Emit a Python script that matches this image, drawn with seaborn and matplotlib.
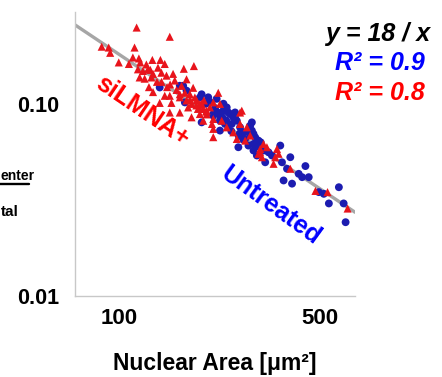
import numpy as np
import pandas as pd
import matplotlib
matplotlib.use("Agg")
import matplotlib.pyplot as plt
from matplotlib.lines import Line2D
from matplotlib.ticker import LogLocator, FixedLocator, NullFormatter
import seaborn as sns

# ---------------- data ----------------
red_area = [114.7, 149.6, 86.7, 91.7, 92.8, 112.8, 99.4, 107.8, 111.3, 116.8,
            118.1, 130.1, 138.8, 143.7, 136.1, 167.4, 115.9, 120.6, 125.6, 130.8,
            117.5, 122.3, 129.1, 139.9, 145.7, 153.6, 155.7, 126.6, 130.8, 146.4,
            149.6, 143.7, 162.1, 168.8, 138.0, 151.6, 162.1, 149.6, 181.5, 171.1,
            180.4, 220.6, 262.8, 212.0, 190.4, 187.4, 178.1, 201.0, 196.7, 185.4,
            171.1, 162.1, 277.4, 273.6, 317.0, 325.8, 304.5, 343.6, 393.0, 480.8,
            529.6, 622.1, 348.3, 249.0, 262.8, 226.8, 212.0, 236.1, 164.4, 175.7,
            173.3, 178.1, 193.1, 195.6, 201.0, 190.4, 206.4, 212.0, 223.7, 195.6,
            209.8, 212.0, 266.4, 255.9, 284.9, 308.7, 182.9, 308.7, 313.0, 357.7,
            353.2, 185.0, 200.0, 190.0, 176.0, 158.0, 135.0, 128.0, 124.0, 140.0,
            150.0]
red_ratio = [0.249, 0.223, 0.198, 0.196, 0.184, 0.196, 0.164, 0.161, 0.174, 0.172,
             0.164, 0.169, 0.169, 0.161, 0.154, 0.152, 0.151, 0.148, 0.151, 0.143,
             0.137, 0.135, 0.137, 0.145, 0.140, 0.143, 0.132, 0.122, 0.115, 0.122,
             0.110, 0.110, 0.112, 0.114, 0.101, 0.101, 0.090, 0.090, 0.157, 0.134,
             0.121, 0.114, 0.090, 0.067, 0.0998, 0.094, 0.085, 0.088, 0.104, 0.104,
             0.104, 0.108, 0.0754, 0.0643, 0.0618, 0.0594, 0.0549, 0.0487, 0.0459, 0.0352,
             0.0347, 0.0285, 0.0527, 0.0710, 0.0785, 0.0816, 0.0740, 0.0754, 0.124, 0.112,
             0.0957, 0.0998, 0.0998, 0.0939, 0.092, 0.0884, 0.0957, 0.1016, 0.0998, 0.0816,
             0.0785, 0.0833, 0.0920, 0.0656, 0.0683, 0.0582, 0.1078, 0.0559, 0.0527, 0.0549,
             0.0582, 0.098, 0.091, 0.095, 0.105, 0.118, 0.130, 0.150, 0.160, 0.130,
             0.126]

blue_area = [166.5, 171.1, 193.1, 203.6, 206.4, 217.8, 236.1, 239.1, 229.7, 249.0,
             245.8, 223.7, 232.9, 255.9, 262.8, 269.9, 281.0, 284.9, 273.6, 259.2,
             281.0, 292.6, 304.5, 317.0, 288.8, 212.0, 242.4, 252.4, 288.8, 296.6,
             292.6, 300.6, 321.4, 330.1, 362.7, 339.2, 367.6, 393.0, 382.8, 420.3,
             443.6, 455.5, 372.4, 398.5, 493.8, 514.0, 580.0, 535.3, 602.6, 612.1,
             432.0, 138.0, 190.4, 193.1, 212.0, 223.7, 252.4, 292.6, 168.8, 162.1,
             215.0, 220.0, 228.0, 235.0, 245.0, 262.0, 270.0, 240.0, 200.0, 230.0,
             225.0, 260.0, 300.0, 310.0]
blue_ratio = [0.124, 0.117, 0.112, 0.108, 0.102, 0.106, 0.0957, 0.0901, 0.0920, 0.0849,
              0.0785, 0.0725, 0.0785, 0.0816, 0.0754, 0.0710, 0.0710, 0.0769, 0.0656, 0.0594,
              0.0606, 0.0571, 0.0643, 0.0571, 0.0800, 0.0884, 0.0884, 0.0901, 0.0725, 0.0669,
              0.0618, 0.0538, 0.0496, 0.0559, 0.0606, 0.0538, 0.0496, 0.0527, 0.0459, 0.0432,
              0.0474, 0.0415, 0.0399, 0.0384, 0.0347, 0.0340, 0.0368, 0.0303, 0.0303, 0.0242,
              0.0415, 0.1215, 0.1078, 0.0800, 0.0867, 0.0816, 0.0849, 0.0697, 0.1016, 0.124,
              0.095, 0.090, 0.085, 0.082, 0.072, 0.070, 0.065, 0.078, 0.100, 0.100,
              0.085, 0.068, 0.060, 0.063]

fit_k = 18.0          # y = 18 / x
x_range = [70, 660]
y_range = [0.01, 0.30]
x_tick_values = [100, 500]
x_tick_labels = ["100", "500"]
y_tick_values = [0.01, 0.10]
y_tick_labels = ["0.01", "0.10"]

# ---------------- style ----------------
sns.set_style("white")
plt.rcParams['font.family'] = ['Liberation Sans', 'DejaVu Sans']
plt.rcParams['font.weight'] = 'bold'
plt.rcParams['text.color'] = 'black'
plt.rcParams['axes.labelcolor'] = 'black'
plt.rcParams['xtick.labelcolor'] = 'black'
plt.rcParams['ytick.labelcolor'] = 'black'

W, H = 442, 377
fig = plt.figure(figsize=(W / 100, H / 100), dpi=100)
ax = fig.add_axes([75 / W, 1 - 296 / H, 280 / W, 284 / H])

red_df = pd.DataFrame({"area": red_area, "ratio": red_ratio})
blue_df = pd.DataFrame({"area": blue_area, "ratio": blue_ratio})

line_x = np.geomspace(x_range[0], x_range[1], 50)
line_df = pd.DataFrame({"area": line_x, "ratio": fit_k / line_x})

sns.lineplot(data=line_df, x="area", y="ratio", ax=ax, color="#a6a6a6",
             linewidth=2.4, zorder=1)
sns.scatterplot(data=blue_df, x="area", y="ratio", ax=ax, marker="o",
                color="#1c1cb0", edgecolor="none", s=32, zorder=2)
sns.scatterplot(data=red_df, x="area", y="ratio", ax=ax, marker="^",
                color="#e8141c", edgecolor="none", s=34, zorder=3)

ax.set_xscale("log")
ax.set_yscale("log")
ax.set_xlim(*x_range)
ax.set_ylim(*y_range)

ax.xaxis.set_major_locator(FixedLocator(x_tick_values))
ax.set_xticklabels(x_tick_labels)
ax.xaxis.set_minor_locator(LogLocator(base=10, subs=np.arange(2, 10)))
ax.xaxis.set_minor_formatter(NullFormatter())
ax.yaxis.set_major_locator(FixedLocator(y_tick_values))
ax.set_yticklabels(y_tick_labels)
ax.yaxis.set_minor_locator(LogLocator(base=10, subs=np.arange(2, 10)))
ax.yaxis.set_minor_formatter(NullFormatter())

for s in ["top", "right"]:
    ax.spines[s].set_visible(False)
for s in ["left", "bottom"]:
    ax.spines[s].set_color("#c8c8c8")
    ax.spines[s].set_linewidth(1.0)

ax.tick_params(axis="both", which="both", direction="out", color="#c0c0c0",
               length=3, width=0.8)
ax.tick_params(axis="y", which="major", labelsize=15.5, pad=8, labelcolor="black")
ax.tick_params(axis="x", which="major", labelsize=16, pad=6, labelcolor="black")
for lab in ax.get_xticklabels() + ax.get_yticklabels():
    lab.set_fontweight("bold")

ax.set_xlabel("Nuclear Area [\u03bcm\u00b2]", fontsize=16.5, fontweight="bold",
              labelpad=16, color="black")
ax.set_ylabel("")

# in-plot labels
ax.text(0.24, 0.650, "siLMNA+", transform=ax.transAxes, color="#ff0000",
        fontsize=18, fontweight="bold", rotation=-34, ha="center", va="center")
ax.text(0.70, 0.318, "Untreated", transform=ax.transAxes, color="#0000ff",
        fontsize=18, fontweight="bold", rotation=-36, ha="center", va="center")

# equation / R^2 annotations
fig.text(430 / W, 1 - 34 / H, "y = 18 / x", color="black", fontsize=18,
         fontweight="bold", style="italic", ha="right", va="center")
fig.text(425 / W, 1 - 63 / H, "R\u00b2 = 0.9", color="#0000ff", fontsize=18,
         fontweight="bold", style="italic", ha="right", va="center")
fig.text(425 / W, 1 - 93 / H, "R\u00b2 = 0.8", color="#ff0000", fontsize=18,
         fontweight="bold", style="italic", ha="right", va="center")

# visible fragments of the y-axis fraction label (the reference crops it at the left edge)
fig.text(0.5 / W, 1 - 176 / H, "enter", color="black", fontsize=10,
         fontweight="bold", ha="left", va="center")
fig.text(0.5 / W, 1 - 212 / H, "tal", color="black", fontsize=11,
         fontweight="bold", ha="left", va="center")
fig.add_artist(Line2D([0, 29 / W], [1 - 184 / H, 1 - 184 / H],
                      transform=fig.transFigure, color="black", linewidth=1.7))

fig.savefig("out.png", dpi=100)
